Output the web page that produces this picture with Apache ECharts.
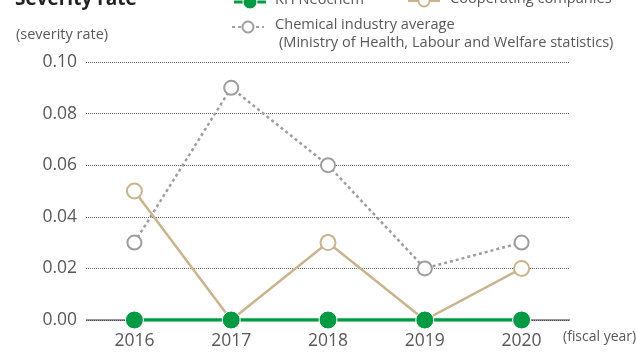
<!DOCTYPE html>
<html>
<head>
<meta charset="utf-8">
<script src="https://cdn.jsdelivr.net/npm/echarts@6/dist/echarts.min.js"></script>
<style>
  html, body { margin: 0; padding: 0; background: #fff; }
  #chart { width: 636px; height: 354px; }
</style>
</head>
<body>
<div id="chart"></div>
<script>
const years = ['2016', '2017', '2018', '2019', '2020'];
const khNeochem = [0, 0, 0, 0, 0];
const cooperating = [0.05, 0, 0.03, 0, 0.02];
const chemicalAvg = [0.03, 0.09, 0.06, 0.02, 0.03];
const yTicks = [0, 0.02, 0.04, 0.06, 0.08, 0.10];

const GREEN = '#009a44';
const BEIGE = '#c8b48e';
const GREY = '#9e9e9e';
const TEXT = '#595757';
const FONT = '"Open Sans", "Noto Sans", sans-serif';

const chart = echarts.init(document.getElementById('chart'), null, { renderer: 'canvas' });

function legendIcon(x, y, color, filled, dashed) {
  return [
    {
      type: 'line',
      shape: { x1: x, y1: y, x2: x + 32, y2: y },
      style: { stroke: color, lineWidth: filled ? 3 : 2, lineDash: dashed ? [3, 3] : null }
    },
    {
      type: 'circle',
      shape: { cx: x + 16, cy: y, r: filled ? 7 : 5.5 },
      style: { fill: filled ? color : '#fff', stroke: filled ? '#fff' : color, lineWidth: filled ? 1 : 2 }
    }
  ];
}

chart.setOption({
  animation: false,
  textStyle: { fontFamily: FONT },
  grid: { left: 86, right: 66, top: 62, bottom: 34 },
  xAxis: {
    type: 'category',
    data: years,
    boundaryGap: true,
    axisLine: { show: false },
    axisTick: { show: false },
    axisLabel: { color: TEXT, fontSize: 17.5, margin: 12, fontFamily: FONT }
  },
  yAxis: {
    type: 'value',
    min: 0,
    max: 0.1,
    interval: 0.02,
    axisLine: { show: false },
    axisTick: { show: false },
    axisLabel: {
      color: TEXT, fontSize: 17.5, margin: 9, fontFamily: FONT,
      formatter: v => {
        const t = yTicks.find(k => Math.abs(k - v) < 1e-9);
        return (t === undefined ? v : t).toFixed(2);
      }
    },
    splitLine: {
      lineStyle: { color: '#666', width: 1, type: [1, 1] }
    }
  },
  graphic: [
    {
      type: 'text', left: 15, top: -10,
      style: { text: 'Severity rate', fill: '#222', font: 'bold 19px ' + FONT }
    },
    {
      type: 'text', left: 16, top: 27,
      style: { text: '(severity rate)', fill: TEXT, font: '14.5px ' + FONT }
    },
    {
      type: 'text', left: 563, top: 330,
      style: { text: '(fiscal year)', fill: TEXT, font: '14px ' + FONT }
    },
    {
      type: 'line',
      shape: { x1: 86, y1: 320, x2: 570, y2: 320 },
      style: { stroke: '#333', lineWidth: 1.2 },
      z: 1
    },
    ...legendIcon(234, 2, GREEN, true, false),
    {
      type: 'text', left: 275, top: -8,
      style: { text: 'KH Neochem', fill: TEXT, font: '14.6px ' + FONT }
    },
    ...legendIcon(408, 1, BEIGE, false, false),
    {
      type: 'text', left: 450, top: -9,
      style: { text: 'Cooperating companies', fill: TEXT, font: '14.6px ' + FONT }
    },
    ...legendIcon(232, 27, GREY, false, true),
    {
      type: 'text', left: 275, top: 17,
      style: { text: 'Chemical industry average', fill: TEXT, font: '14.6px ' + FONT }
    },
    {
      type: 'text', left: 279, top: 35,
      style: { text: '(Ministry of Health, Labour and Welfare statistics)', fill: TEXT, font: '14.6px ' + FONT }
    }
  ],
  series: [
    {
      name: 'Chemical industry average',
      type: 'line',
      data: chemicalAvg,
      symbol: 'circle',
      symbolSize: 14,
      showAllSymbol: true,
      lineStyle: { color: GREY, width: 2.5, type: [3, 3] },
      itemStyle: { color: '#fff', borderColor: GREY, borderWidth: 2 },
      z: 3
    },
    {
      name: 'Cooperating companies',
      type: 'line',
      data: cooperating,
      symbol: 'circle',
      symbolSize: 15,
      showAllSymbol: true,
      lineStyle: { color: BEIGE, width: 2.5 },
      itemStyle: { color: '#fff', borderColor: BEIGE, borderWidth: 2 },
      z: 4
    },
    {
      name: 'KH Neochem',
      type: 'line',
      data: khNeochem,
      symbol: 'circle',
      symbolSize: 18,
      showAllSymbol: true,
      lineStyle: { color: GREEN, width: 3.5 },
      itemStyle: { color: GREEN, borderColor: '#fff', borderWidth: 1 },
      z: 5
    }
  ]
});
</script>
</body>
</html>
